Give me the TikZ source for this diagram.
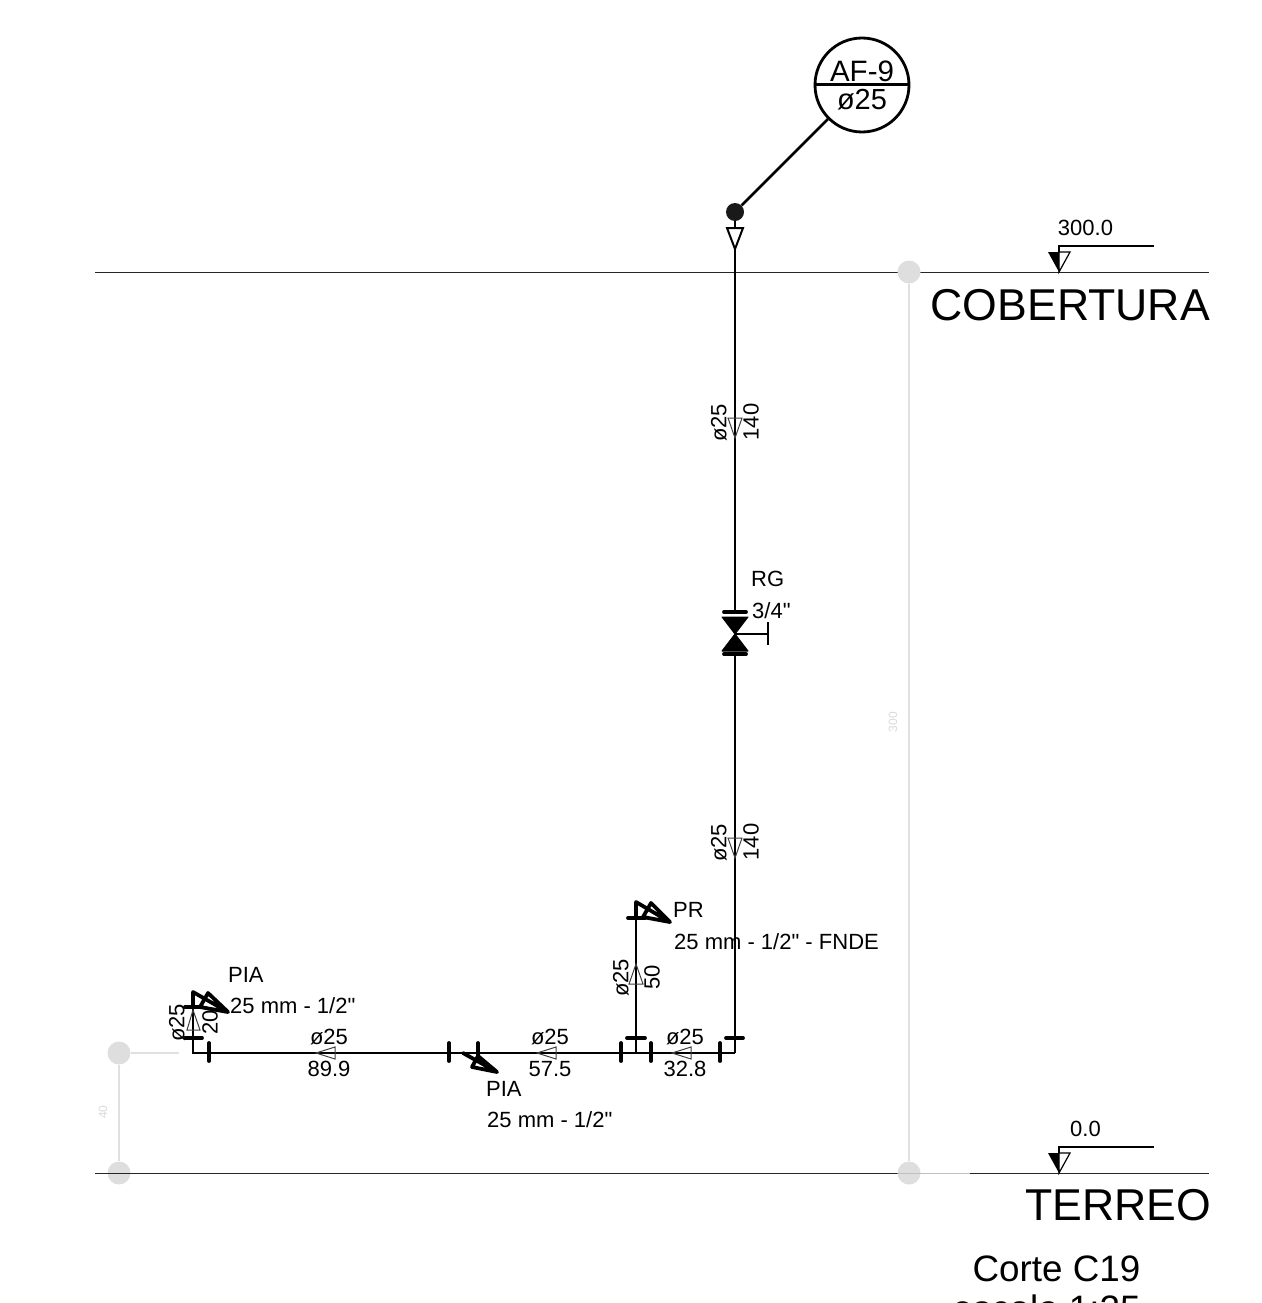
\documentclass[tikz,border=0pt]{standalone}
\usepackage{fontspec}
\setmainfont{Liberation Sans}
\newfontfamily\plainsans{Liberation Sans}
\newcommand{\fsz}[1]{\plainsans\fontsize{#1}{#1}\selectfont}
\tikzset{
  pipe/.style={draw=black,line width=2.8pt},
  tick/.style={draw=black,line width=3.8pt,line cap=round},
  fit/.style={draw=black,line width=3.8pt,line join=round,line cap=round},
  flow/.style={draw=black!75,line width=1pt},
  level/.style={draw=black!85,line width=1pt},
  dimline/.style={draw=black!12,line width=2.2pt},
  dimdot/.style={circle,fill=black!13,draw=none,minimum size=23pt,inner sep=0pt},
  lab/.style={inner sep=0pt,font=\fsz{22}},
  big/.style={inner sep=0pt,font=\fsz{44.6}},
  dimtext/.style={inner sep=0pt,font=\fsz{12},text=black!15,rotate=90},
}
\begin{document}
\begin{tikzpicture}[x=1pt,y=-1pt]
\useasboundingbox (0,0) rectangle (1261,1303);
\clip (0,0) rectangle (1261,1303);
% named points
\coordinate (source) at (735,212);
\coordinate (vtop) at (735,612);
\coordinate (vbot) at (735,654);
\coordinate (vmid) at (735,634);
\coordinate (corner) at (735,1053);
\coordinate (tee) at (636,1053);
\coordinate (pr) at (636,918);
\coordinate (leftc) at (193,1053);
\coordinate (pia) at (193,1007);
\coordinate (hand) at (768,634);
% levels
\coordinate (l1a) at (95,272); \coordinate (l1b) at (1209,272);
\coordinate (l2a) at (95,1173); \coordinate (l2b) at (1209,1173);
\coordinate (l2c) at (970,1173); \coordinate (l2d) at (898,1173);
\node[dimdot] (d4) at (119,1173) {};
\draw[level] (l1a) -- (l1b);
\draw[level] (l2a) -- (l2d);
\draw[level] (l2c) -- (l2b);
% dimensions
\node[dimdot] (d1) at (909,272) {};
\node[dimdot] (d2) at (909,1173) {};
\node[dimdot] (d3) at (119,1053) {};
\coordinate (d3e) at (179,1053);
\draw[draw=black!25,line width=1pt] (l2d) -- (l2c);
\draw[dimline] (d1) -- (d2);
\draw[dimline] (d3) -- (d4);
\draw[draw=black!12,line width=1.4pt] (d3) -- (d3e);
\node[dimtext] (t300) at (893,722) {300};
\node[dimtext] (t40) at (103,1112) {40};
\foreach \yy in {272,1173}{
  \fill[black] (1048,\yy-20) -- (1059,\yy-20) -- (1059,\yy) -- cycle;
  \draw[draw=black,line width=1.2pt] (1059,\yy-20) -- (1070,\yy-20) -- (1059,\yy) -- cycle;
  \draw[draw=black,line width=1.2pt] (1059,\yy-20) -- (1059,\yy-26) -- (1154,\yy-26);
}
\node[lab] (lv1) at (1085.5,228) {300.0};
\node[lab] (lv2) at (1085.5,1129) {0.0};
\node[big,anchor=east] (cob) at (1210,305) {COBERTURA};
\node[big,anchor=east] (ter) at (1211.5,1205) {TERREO};
\node[inner sep=0pt,font=\fsz{36.8}] (corte) at (1056.5,1269) {Corte C19};
\node[inner sep=0pt,font=\fsz{36.8}] (esc) at (1046.5,1308) {escala 1:25};
% bubble
\node[circle,draw=black,line width=2.8pt,minimum size=94pt,inner sep=0pt] (bub) at (862,85) {};
\draw[black,line width=3pt] (bub.west) -- (bub.east);
\node[inner sep=0pt,font=\fsz{29.5}] (af) at (862,71) {AF-9};
\node[inner sep=0pt,font=\fsz{29}] (dn) at (862,100) {ø25};
\node[circle,fill=black!90,draw=none,minimum size=18pt,inner sep=0pt] (dot) at (source) {};
\draw[pipe] (bub) -- (dot);
% pipes
\draw[pipe] (dot) -- (vtop);
\draw[pipe] (vbot) -- (corner);
\draw[pipe,line join=miter] (corner) -- (leftc) -- (pia);
\draw[pipe] (tee) -- (pr);
% top arrow
\draw[draw=black,line width=2pt,fill=white] (727,228) -- (743,228) -- (735,249) -- cycle;
% valve
\draw[tick] (724,612) -- (746,612);
\draw[tick] (724,654) -- (746,654);
\fill[black,draw=black,line width=1pt,line join=round] (722,617) -- (748,617) -- (735,634) -- cycle;
\fill[black,draw=black,line width=1pt,line join=round] (722,651) -- (748,651) -- (735,634) -- cycle;
\draw[pipe] (vmid) -- (hand);
\draw[draw=black,line width=2.8pt] (768,622) -- (768,645);
\node[lab,anchor=west] (rg) at (751,579) {RG};
\node[lab,anchor=west] (rgs) at (752,611) {3/4"};
% ticks
\draw[tick] (209,1043) -- (209,1061);
\draw[tick] (449,1043) -- (449,1061);
\draw[tick] (478,1043) -- (478,1055);
\draw[tick] (621,1043) -- (621,1061);
\draw[tick] (651,1043) -- (651,1061);
\draw[tick] (720,1043) -- (720,1061);
\draw[tick] (627,1038) -- (645,1038);
\draw[tick] (726,1038) -- (743,1038);
\draw[tick] (628,918) -- (645,918);
\draw[tick] (185,1038) -- (202,1038);
\draw[tick] (185,1007) -- (202,1007);
% fittings
\draw[fit] (193,1007) -- (193,992) -- (228,1012) -- (200,1007) -- (208,993) -- (228,1012);
\draw[fit] (636,918) -- (636,902) -- (670,922) -- (643,917) -- (651,903) -- (670,922);
\draw[fit] (463,1053) -- (497,1072) -- (472,1067) -- (478,1056) -- (497,1072);
% flow marks
\draw[flow] (728,418) -- (742,418) -- (735,438) -- cycle;
\draw[flow] (728,838) -- (742,838) -- (735,858) -- cycle;
\draw[flow] (629,984) -- (643,984) -- (636,964) -- cycle;
\draw[flow] (187,1030) -- (200,1030) -- (193,1010) -- cycle;
\draw[flow] (335,1047) -- (335,1059) -- (316,1053) -- cycle;
\draw[flow] (556,1047) -- (556,1059) -- (537,1053) -- cycle;
\draw[flow] (691,1047) -- (691,1059) -- (672,1053) -- cycle;
% pipe labels
\node[lab,rotate=90] (a1) at (719,423) {ø25};
\node[lab,rotate=90] (a2) at (751,422) {140};
\node[lab,rotate=90] (b1) at (719,843) {ø25};
\node[lab,rotate=90] (b2) at (751,842) {140};
\node[lab,rotate=90] (c1) at (621,978) {ø25};
\node[lab,rotate=90] (c2) at (652,977) {50};
\node[lab,rotate=90] (e1) at (177,1023) {ø25};
\node[lab,rotate=90] (e2) at (210,1022) {20};
\node[lab] (f1) at (329,1037) {ø25};
\node[lab] (f2) at (329,1069) {89.9};
\node[lab] (g1) at (550,1037) {ø25};
\node[lab] (g2) at (550,1069) {57.5};
\node[lab] (h1) at (685,1037) {ø25};
\node[lab] (h2) at (685,1069) {32.8};
% fitting labels
\node[lab,anchor=west] (p1) at (228,975) {PIA};
\node[lab,anchor=west] (p1b) at (230,1006) {25 mm - 1/2"};
\node[lab,anchor=west] (p2) at (486,1089) {PIA};
\node[lab,anchor=west] (p2b) at (487,1120) {25 mm - 1/2"};
\node[lab,anchor=west] (p3) at (673,910) {PR};
\node[lab,anchor=west] (p3b) at (674,942) {25 mm - 1/2" - FNDE};
\end{tikzpicture}
\end{document}
